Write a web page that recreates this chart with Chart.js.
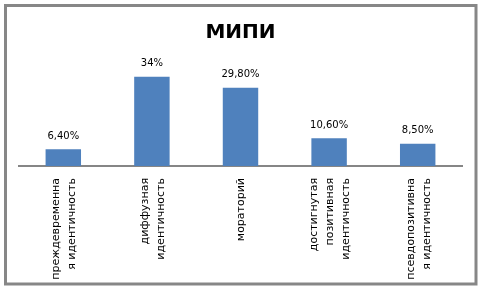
<!DOCTYPE html>
<html><head><meta charset="utf-8">
<script src="https://cdn.jsdelivr.net/npm/chart.js@4/dist/chart.umd.min.js"></script>
<style>html,body{margin:0;padding:0;background:#fff}#wrap{width:480px;height:288px}</style>
</head><body><div id="wrap"><canvas id="c" width="480" height="288"></canvas></div>
<script>
const title = 'МИПИ';
const categories = [
  ['преждевременна','я идентичность'],
  ['диффузная','идентичность'],
  ['мораторий'],
  ['достигнутая','позитивная','идентичность'],
  ['псевдопозитивна','я идентичность']
];
const values = [6.4, 34, 29.8, 10.6, 8.5];
const valueLabels = ['6,40%','34%','29,80%','10,60%','8,50%'];
const yMax = 40;

const frame = {
  id:'frame',
  beforeDraw(chart){
    const ctx = chart.ctx;
    ctx.save();
    ctx.fillStyle='#fff';ctx.fillRect(0,0,chart.width,chart.height);
    ctx.strokeStyle='#878787';ctx.lineWidth=3;
    ctx.strokeRect(5.5,5.5,470.5,278.5);
    ctx.restore();
  }
};
// center multi-line rotated tick labels on their category
const centerLabels = {
  id:'centerLabels',
  beforeDraw(chart){
    const scale = chart.scales.x;
    const items = scale.getLabelItems();
    items.forEach(it=>{
      const n = Array.isArray(it.label) ? it.label.length : 1;
      const lh = it.font.lineHeight;
      it.textOffset = lh/2 - (n-1)*lh/2 + 1;
    });
  }
};
const dataLabels = {
  id:'dataLabels',
  afterDatasetsDraw(chart){
    const ctx = chart.ctx;
    const meta = chart.getDatasetMeta(0);
    ctx.save();
    ctx.font = '10px "DejaVu Sans"';
    ctx.fillStyle = '#000';
    ctx.textAlign = 'center';
    ctx.textBaseline = 'bottom';
    meta.data.forEach((bar,i)=>{
      ctx.fillText(valueLabels[i], bar.x, bar.y - 8);
    });
    ctx.restore();
  }
};

new Chart(document.getElementById('c'), {
  type:'bar',
  data:{labels:categories, datasets:[{data:values, backgroundColor:'#4F81BD', categoryPercentage:1, barPercentage:0.4}]},
  options:{
    responsive:false, animation:false,
    layout:{padding:{left:19,right:18,top:0,bottom:0}},
    plugins:{
      legend:{display:false},
      tooltip:{enabled:false},
      title:{display:true,text:title,color:'#000',font:{family:'"DejaVu Sans"',size:20,weight:'bold'},padding:{top:21,bottom:16}}
    },
    scales:{
      x:{
        afterFit(scale){ scale.height = 122; },
        grid:{display:false,drawTicks:false},
        border:{display:true,color:'#868686',width:2},
        ticks:{color:'#000',font:{family:'"DejaVu Sans"',size:11,lineHeight:1.45},minRotation:90,maxRotation:90,padding:12,autoSkip:false}
      },
      y:{display:false,min:0,max:yMax}
    }
  },
  plugins:[frame,centerLabels,dataLabels]
});
</script></body></html>
